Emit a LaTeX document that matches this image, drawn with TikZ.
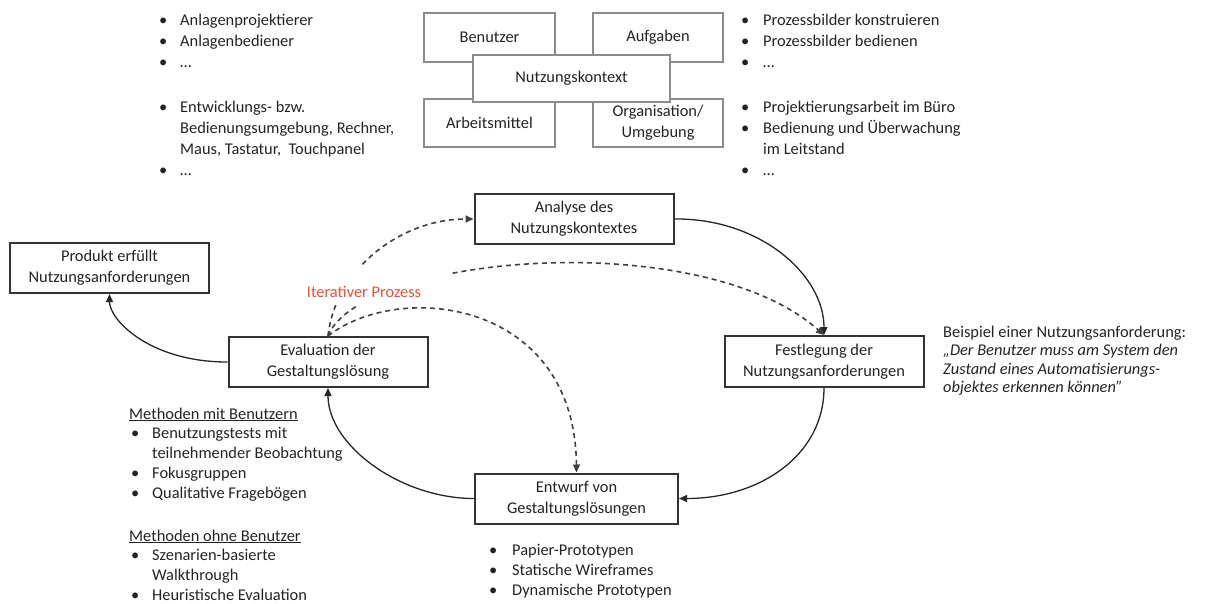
\documentclass[tikz,border=0pt]{standalone}
\usepackage{fontspec}
\setmainfont{Carlito}
\usetikzlibrary{arrows.meta}
\definecolor{txt}{HTML}{262222}
\definecolor{itred}{HTML}{E8503A}
\newcommand{\bu}{\makebox[21pt][l]{\textbullet}}
\newcommand{\bua}{\makebox[22pt][l]{\textbullet}}
\newcommand{\bub}{\makebox[23pt][l]{\textbullet}}
\begin{document}
\begin{tikzpicture}[x=1pt,y=-1pt,
  every node/.style={text=txt},
  cbox/.style={draw=black!45, line width=1.6pt, fill=white, align=center, inner sep=0pt,
    font=\fontsize{16.4}{21}\selectfont},
  pbox/.style={draw=black!80, line width=2pt, fill=white, align=center, inner sep=0pt,
    minimum width=199pt, minimum height=50pt, font=\fontsize{16.4}{21}\selectfont},
  lst/.style={anchor=north west, inner sep=0pt, align=left, font=\fontsize{16.4}{21}\selectfont},
  solidarr/.style={draw=black!85, line width=1.3pt, -{Triangle[length=8pt,width=7pt]}},
  dasharr/.style={draw=black!75, line width=1.6pt, dash pattern=on 5pt off 4pt, -{Triangle[length=8pt,width=7pt]}}
]
\useasboundingbox (0,0) rectangle (1211,603);

% context boxes
\node[cbox, minimum width=131pt, minimum height=49pt] (ben) at (489.5,37.5) {Benutzer};
\node[cbox, minimum width=130pt, minimum height=49pt] (auf) at (658,37.5) {Aufgaben};
\node[cbox, minimum width=131pt, minimum height=48pt] (arb) at (489.5,123) {Arbeitsmittel};
\node[cbox, minimum width=130pt, minimum height=48pt] (org) at (658,123) {Organisation/\\Umgebung};
\node[cbox, minimum width=197pt, minimum height=47pt] (nk) at (571.5,78.5) {Nutzungskontext};

% bullet lists top
\node[lst] (l1a) at (159,10.3) {\strut\bu Anlagenprojektierer\\\bu Anlagenbediener\\\bu …};
\node[lst] (l1b) at (159,97.3) {\strut\bu Entwicklungs- bzw.\\\hspace*{21pt}Bedienungsumgebung, Rechner,\\\hspace*{21pt}Maus, Tastatur,\ \ Touchpanel\\\bu …};
\node[lst] (l2a) at (741,10.3) {\strut\bua Prozessbilder konstruieren\\\bua Prozessbilder bedienen\\\bua …};
\node[lst] (l2b) at (741,97.3) {\strut\bua Projektierungsarbeit im Büro\\\bua Bedienung und Überwachung\\\hspace*{22pt}im Leitstand\\\bua …};

% process boxes
\node[pbox] (ana) at (574,219) {Analyse des\\Nutzungskontextes};
\node[pbox, minimum height=51pt] (fest) at (824,361.5) {Festlegung der\\Nutzungsanforderungen};
\node[pbox, minimum width=203pt] (entw) at (576.5,498.5) {Entwurf von\\Gestaltungslösungen};
\node[pbox] (eval) at (328,362) {Evaluation der\\Gestaltungslösung};
\node[pbox] (prod) at (109.5,268) {Produkt erfüllt\\Nutzungsanforderungen};

% solid cycle
\draw[solidarr] (ana.east) .. controls (760,218) and (824,275) .. (fest.north);
\draw[solidarr] (fest.south) .. controls (824,455) and (760,498.5) .. (entw.east);
\draw[solidarr] (entw.west) .. controls (400,498.5) and (328,445) .. (eval.south);
\draw[solidarr] (eval.west) .. controls (150,362) and (109.5,320) .. (prod.south);

% dashed iterations
\draw[dasharr] (eval.north) .. controls (335,270) and (400,219) .. (ana.west);
\draw[dasharr] (eval.north) .. controls (360,255) and (700,225) .. (fest.north);
\draw[dasharr] (eval.north) .. controls (400,280) and (575,300) .. (entw.north);
\fill[white] (300,266) rectangle (452,305);
\node[inner sep=0pt, text=itred, font=\fontsize{16.4}{21}\selectfont] (iter) at (364,292) {Iterativer Prozess};

% example text
\node[lst, font=\fontsize{16.4}{18.5}\selectfont] (bsp) at (943,324) {\strut Beispiel einer Nutzungsanforderung:\\\itshape „Der Benutzer muss am System den\\\itshape Zustand eines Automatisierungs-\\\itshape objektes erkennen können”};

% evaluation methods
\node[lst, font=\fontsize{16.4}{19.8}\selectfont] (m1) at (129,405.1) {\strut\underline{Methoden mit Benutzern}\\\hspace*{2pt}\bu Benutzungstests mit\\\hspace*{23pt}teilnehmender Beobachtung\\\hspace*{2pt}\bu Fokusgruppen\\\hspace*{2pt}\bu Qualitative Fragebögen};
\node[lst, font=\fontsize{16.4}{19.8}\selectfont] (m2) at (129,527.1) {\strut\underline{Methoden ohne Benutzer}\\\hspace*{2pt}\bu Szenarien-basierte\\\hspace*{23pt}Walkthrough\\\hspace*{2pt}\bu Heuristische Evaluation};

% design bullets
\node[lst, font=\fontsize{16.4}{20}\selectfont] (des) at (489,541) {\strut\bub Papier-Prototypen\\\bub Statische Wireframes\\\bub Dynamische Prototypen};
\end{tikzpicture}
\end{document}
